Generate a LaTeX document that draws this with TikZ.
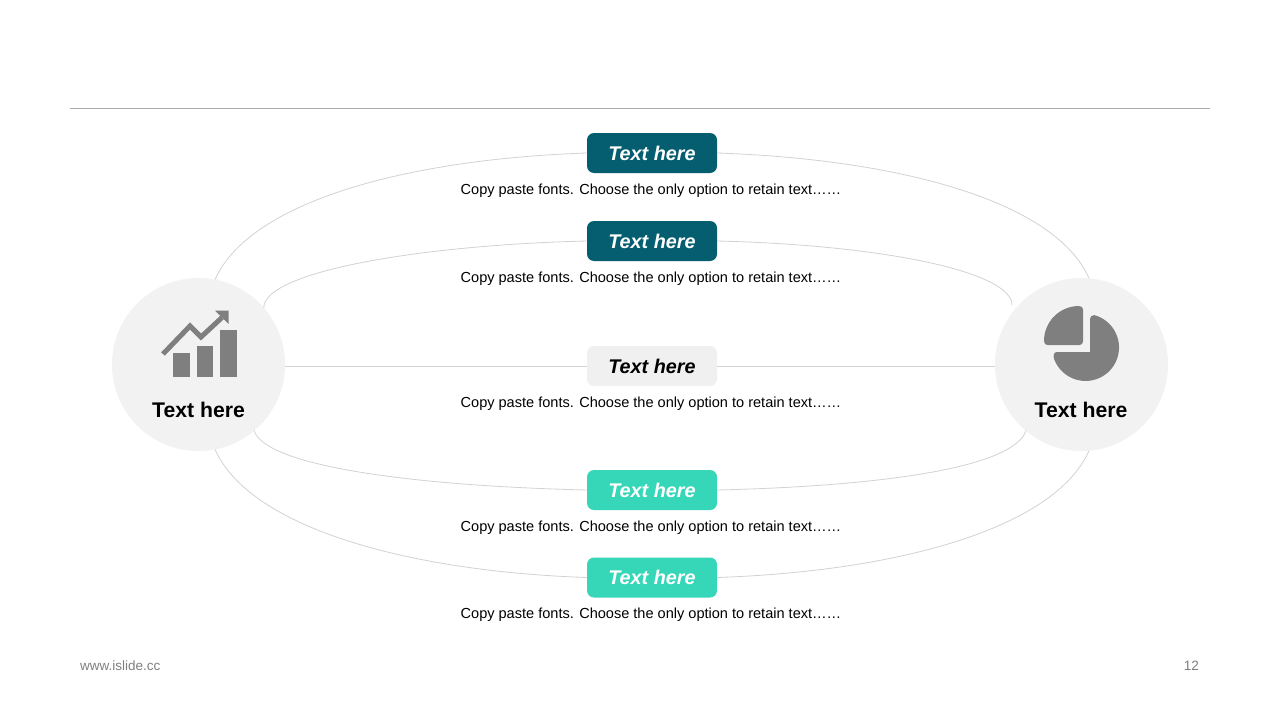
\documentclass[tikz,border=0pt]{standalone}
\usepackage{fontspec}
\setmainfont{Liberation Sans}
\definecolor{deep}{HTML}{045E6F}
\definecolor{mint}{HTML}{36D6B8}
\definecolor{pale}{HTML}{F0F0F0}
\definecolor{disc}{HTML}{F2F2F2}
\definecolor{icon}{HTML}{7F7F7F}
\definecolor{wire}{HTML}{D2D2D2}
\definecolor{foot}{HTML}{7F7F7F}
\tikzset{
  btn/.style={rectangle,rounded corners=7pt,minimum width=130pt,minimum height=40pt,inner sep=0pt,outer sep=0pt,font=\fontsize{19.8}{24}\selectfont\bfseries\itshape},
  btndeep/.style={btn,fill=deep,text=white},
  btnmint/.style={btn,fill=mint,text=white},
  btnpale/.style={btn,fill=pale,text=black},
  hub/.style={circle,fill=disc,minimum size=173pt,inner sep=0pt,outer sep=0pt},
  hubtext/.style={font=\fontsize{21.2}{25}\selectfont\bfseries,text=black,inner sep=0pt},
  body/.style={font=\fontsize{14.55}{17}\selectfont,text=black,inner sep=0pt},
  wireline/.style={draw=wire,line width=0.8pt},
  footer/.style={font=\fontsize{13.5}{16}\selectfont,text=foot,inner sep=0pt}
}
\begin{document}
\begin{tikzpicture}[x=1pt,y=-1pt]
\useasboundingbox (0,0) rectangle (1280,720);
\fill[white] (0,0) rectangle (1280,720);
\coordinate (ruleL) at (70,108.5);
\coordinate (ruleR) at (1210,108.5);
\draw[draw=black!33,line width=0.9pt] (ruleL) -- (ruleR);

\node[hub] (left) at (198.5,364.5) {};
\node[hub] (right) at (1081.5,364.5) {};
\node[btndeep] (b1) at (652,153) {Text here};
\node[btndeep] (b2) at (652,241) {Text here};
\node[btnpale] (b3) at (652,366) {Text here};
\node[btnmint] (b4) at (652,490) {Text here};
\node[btnmint] (b5) at (652,577.5) {Text here};
\coordinate (rin) at (1012,305);

% connectors
\draw[wireline] (left.79) .. controls +(35,-79) and +(-177,6) .. (b1.west);
\draw[wireline] (b1.east) .. controls +(177,6) and +(-35,-79) .. (right.85);
\draw[wireline] (left.41) .. controls +(0,-36) and +(-167,4) .. (b2.west);
\draw[wireline] (b2.east) .. controls +(167,4) and +(0,-33) .. (rin);
\draw[wireline] (left.east |- b3.west) -- (b3.west);
\draw[wireline] (b3.east) -- (right.west |- b3.east);
\draw[wireline] (left.-50) .. controls +(12,36) and +(-170,-4) .. (b4.west);
\draw[wireline] (b4.east) .. controls +(170,-4) and +(-12,36) .. (right.230);
\draw[wireline] (left.-79) .. controls +(35,79) and +(-177,-6) .. (b5.west);
\draw[wireline] (b5.east) .. controls +(177,-6) and +(-35,79) .. (right.-85);

% texts
\node[hubtext] (ltext) at (198.5,409.5) {Text here};
\node[hubtext] (rtext) at (1081,409.5) {Text here};
\node[body] (t1) at (651,191) {Copy paste fonts. Choose the only option to retain text……};
\node[body] (t2) at (651,279) {Copy paste fonts. Choose the only option to retain text……};
\node[body] (t3) at (651,404) {Copy paste fonts. Choose the only option to retain text……};
\node[body] (t4) at (651,528) {Copy paste fonts. Choose the only option to retain text……};
\node[body] (t5) at (651,615) {Copy paste fonts. Choose the only option to retain text……};
\node[footer,anchor=west] (fl) at (80,666) {www.islide.cc};
\node[footer,anchor=east] (fr) at (1199,666) {12};

% chart icon
\fill[icon] (173,353) rectangle (190,377);
\fill[icon] (197,346) rectangle (213,377);
\fill[icon] (220,330) rectangle (237,377);
\draw[icon,line width=5pt,miter limit=10] (163,354) -- (190,326) -- (201,337) -- (222,317.5);
\fill[icon] (215,310.7) -- (228.7,310.7) -- (228.7,324) -- cycle;

% pie icon
\fill[icon] (1044,341) arc[start angle=180,end angle=90,radius=35pt]
  .. controls (1081.5,306) and (1083,307.5) .. (1083,309.5) -- (1083,341.5)
  .. controls (1083,343.5) and (1081.5,345) .. (1079.5,345) -- (1047.5,345)
  .. controls (1045.5,345) and (1044,343.5) .. (1044,341) -- cycle;
\fill[icon] (1090,352) -- (1090,319) .. controls (1090,316.5) and (1092,315) .. (1094.2,315.1)
  arc[start angle=75,end angle=-160,radius=33.5pt]
  .. controls (1053,355) and (1054,352) .. (1057,352) -- cycle;
\end{tikzpicture}
\end{document}
